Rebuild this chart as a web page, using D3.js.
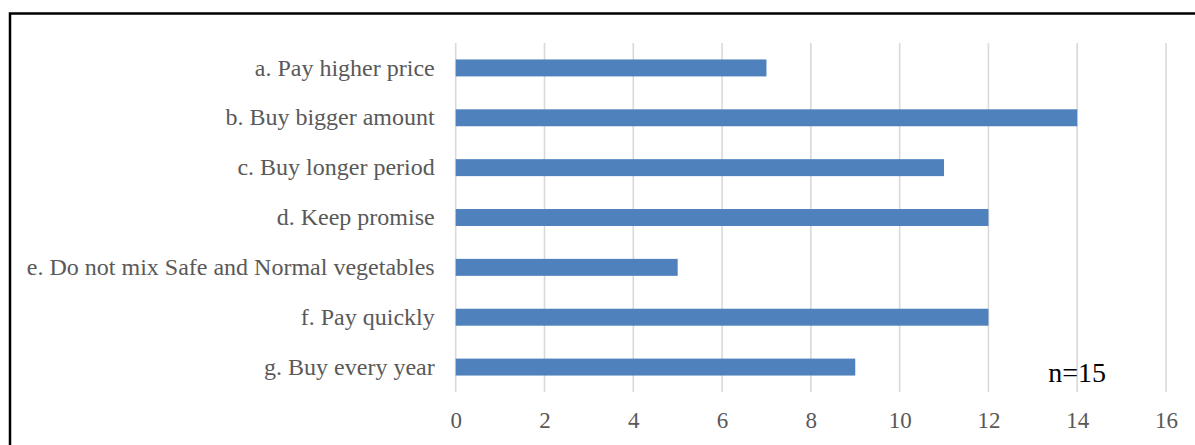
<!DOCTYPE html>
<html>
<head>
<meta charset="utf-8">
<script src="https://cdn.jsdelivr.net/npm/d3@7"></script>
<style>
  html, body { margin: 0; padding: 0; background: #fff; }
  svg { display: block; }
  .serif { font-family: "Liberation Serif", "Times New Roman", serif; }
</style>
</head>
<body>
<svg id="chart" width="1195" height="445"></svg>
<script>
// Survey responses (count of respondents, n=15)
const categories = [
  "a. Pay higher price",
  "b. Buy bigger amount",
  "c. Buy longer period",
  "d. Keep promise",
  "e. Do not mix Safe and Normal vegetables",
  "f. Pay quickly",
  "g. Buy every year"
];
const counts = [7, 14, 11, 12, 5, 12, 9];
const tickValues = [0, 2, 4, 6, 8, 10, 12, 14, 16];
const note = "n=15";

const svg = d3.select("#chart");
const W = 1195, H = 445;
const margin = { left: 455.7, right: 29, top: 43, bottom: 53 };

// Outer frame
svg.append("rect")
  .attr("x", 10).attr("y", 13.5)
  .attr("width", 1200).attr("height", 500)
  .attr("fill", "none").attr("stroke", "#000").attr("stroke-width", 2.5);

const x = d3.scaleLinear().domain([0, 16]).range([margin.left, W - margin.right]);
const y = d3.scaleBand().domain(categories).range([margin.top, H - margin.bottom]).paddingInner(0.66).paddingOuter(0.33);

// Vertical gridlines
svg.append("g").selectAll("line").data(tickValues).join("line")
  .attr("x1", d => x(d)).attr("x2", d => x(d))
  .attr("y1", margin.top).attr("y2", H - margin.bottom)
  .attr("stroke", "#d9d9d9").attr("stroke-width", 1.6);

// Bars
svg.append("g").selectAll("rect").data(categories).join("rect")
  .attr("x", x(0))
  .attr("y", d => y(d))
  .attr("width", (d, i) => x(counts[i]) - x(0))
  .attr("height", y.bandwidth())
  .attr("fill", "#4f81bd");

// X axis tick labels
const xAxis = d3.axisBottom(x).tickValues(tickValues).tickSize(0).tickPadding(0);
const gx = svg.append("g").attr("transform", `translate(0,${H - margin.bottom})`).call(xAxis);
gx.attr("font-family", null).attr("font-size", null);
gx.select(".domain").remove();
gx.selectAll("text")
  .attr("class", "serif")
  .attr("dy", null).attr("y", 36)
  .style("font-size", "23px").attr("fill", "#595959");

// Y axis category labels
const yAxis = d3.axisLeft(y).tickSize(0).tickPadding(21);
const gy = svg.append("g").attr("transform", `translate(${x(0)},0)`).call(yAxis);
gy.attr("font-family", null).attr("font-size", null);
gy.select(".domain").remove();
gy.selectAll("text")
  .attr("class", "serif")
  .style("font-size", "24px").attr("fill", "#595959");

// Sample size note
svg.append("text")
  .attr("class", "serif")
  .attr("x", x(14.0)).attr("y", 382)
  .attr("text-anchor", "middle")
  .style("font-size", "28px").attr("fill", "#000")
  .text(note);
</script>
</body>
</html>
